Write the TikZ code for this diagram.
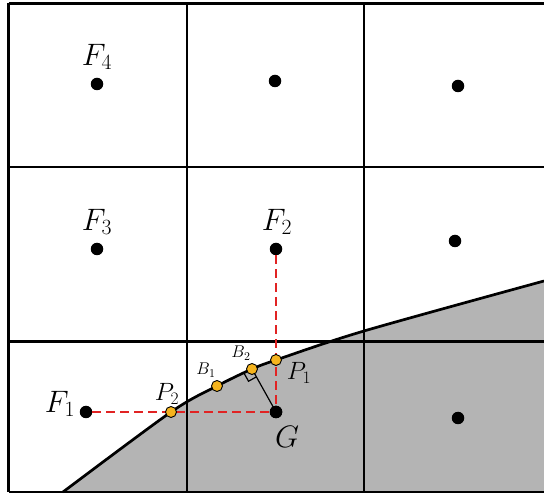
\RequirePackage{fix-cm}
\documentclass[tikz,border=0pt]{standalone}
\usetikzlibrary{calc}
\definecolor{regiongray}{RGB}{180,180,180}
\definecolor{bpt}{RGB}{245,180,30}
\definecolor{dred}{RGB}{225,35,35}
\begin{document}
\begin{tikzpicture}[x=1pt,y=-1pt,
  dot/.style={circle,fill=black,inner sep=0pt,minimum size=12.5pt},
  bnd/.style={circle,fill=bpt,draw=black,line width=0.9pt,inner sep=0pt,minimum size=11pt},
  gridl/.style={line width=2.7pt},
  reddash/.style={dred,line width=2.8pt,dash pattern=on 9pt off 5pt},
  lblF/.style={font=\fontsize{31}{35}\selectfont,inner sep=0pt},
  lblP/.style={font=\fontsize{25}{29}\selectfont,inner sep=0pt},
  lblB/.style={font=\fontsize{17}{20}\selectfont,inner sep=0pt}]
\useasboundingbox (0,0) rectangle (544,494);
% shaded region
\fill[regiongray] plot[smooth] coordinates {(63,492) (171,412) (217,386) (252,369) (276,360) (364,331) (544,281)} -- (546,281) -- (546,492) -- cycle;
% grid
\draw[gridl] (8.5,3.5) -- (546,3.5);
\draw[gridl] (8.5,167) -- (546,167);
\draw[gridl] (8.5,341.5) -- (546,341.5);
\draw[gridl] (8.5,492) -- (546,492);
\draw[gridl] (8.5,3.5) -- (8.5,492);
\draw[gridl] (187,3.5) -- (187,492);
\draw[gridl] (364,3.5) -- (364,492);
% boundary curve
\draw[line width=2.7pt] plot[smooth] coordinates {(63,492) (171,412) (217,386) (252,369) (276,360) (364,331) (544,281)};
% cell centres
\node[dot] (F4) at (97,84) {};
\node[dot] (c12) at (275,81) {};
\node[dot] (c13) at (458,86) {};
\node[dot] (F3) at (97,249) {};
\node[dot] (F2) at (276,249) {};
\node[dot] (c23) at (455,241) {};
\node[dot] (F1) at (86,412) {};
\node[dot] (G) at (276,412) {};
\node[dot] (c33) at (458,418) {};
% red dashed connectors
\draw[reddash] (F1) -- (G);
\draw[reddash] (F2) -- (G);
% boundary points
\coordinate (B2c) at (252,369);
\draw[line width=1.2pt] (G.center) -- (B2c);
\draw[line width=1.2pt] ($(B2c)!9pt!(G)$) -- ($($(B2c)!9pt!(G)$)!9pt!90:(B2c)$) -- ($(B2c)!9pt!-90:(G)$);
\node[bnd] (P2) at (171,412) {};
\node[bnd] (B1) at (217,386) {};
\node[bnd] (B2) at (252,369) {};
\node[bnd] (P1) at (276,360) {};
\node[dot] at (G) {};
% labels
\node[lblF] (tF4) at (97,57) {$F_4$};
\node[lblF] (tF3) at (97,222) {$F_3$};
\node[lblF] (tF2) at (277,222) {$F_2$};
\node[lblF] (tF1) at (60,404) {$F_1$};
\node[lblF] (tG) at (287,437) {$G$};
\node[lblP] (tP2) at (167,394) {$P_2$};
\node[lblP] (tP1) at (299,373) {$P_1$};
\node[lblB] (tB1) at (206,370) {$B_1$};
\node[lblB] (tB2) at (241,353) {$B_2$};
\end{tikzpicture}
\end{document}
